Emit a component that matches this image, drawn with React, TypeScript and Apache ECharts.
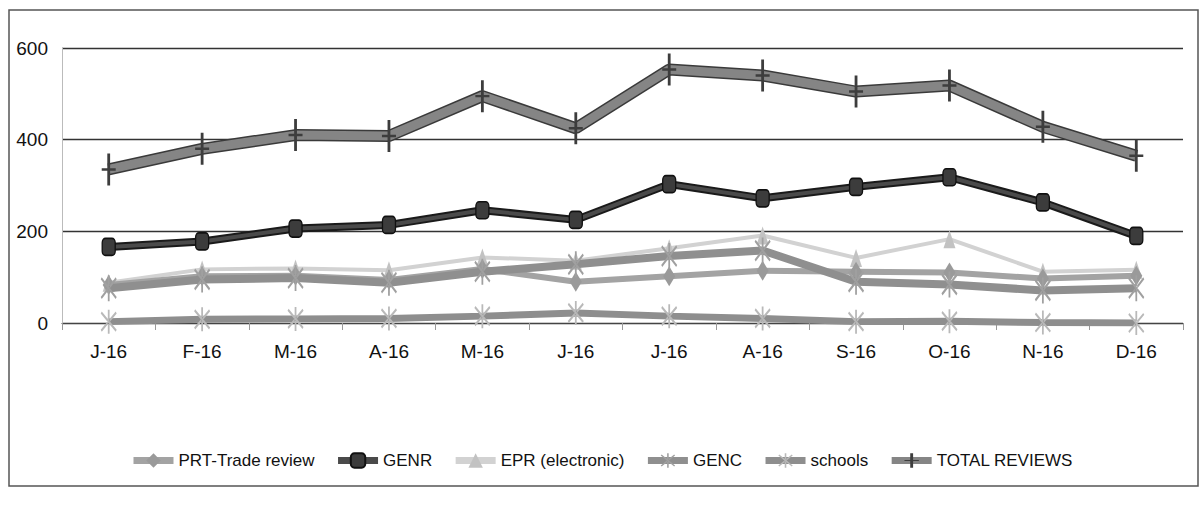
import React, { useEffect, useRef } from "react";
import * as echarts from "echarts";

const months = ["J-16", "F-16", "M-16", "A-16", "M-16", "J-16", "J-16", "A-16", "S-16", "O-16", "N-16", "D-16"];
const yTicks = [0, 200, 400, 600];

const prtTrade = [83, 102, 103, 94, 118, 90, 102, 114, 112, 110, 97, 103];
const genr = [166, 178, 206, 214, 246, 225, 303, 272, 297, 318, 263, 190];
const eprElectronic = [88, 117, 119, 115, 143, 136, 163, 191, 142, 183, 112, 116];
const genc = [76, 95, 98, 88, 112, 128, 146, 158, 90, 84, 71, 76];
const schools = [3, 8, 9, 10, 15, 22, 15, 10, 3, 4, 1, 0];
const totalReviews = [335, 380, 410, 408, 495, 425, 553, 540, 505, 518, 428, 365];

const FONT = "'Liberation Sans', Arial, sans-serif";

const plusPath = "path://M4,0 L6,0 L6,12 L10,12 L10,14 L6,14 L6,26 L4,26 L4,14 L0,14 L0,12 L4,12 Z";
const asteriskPath =
  "path://M9,0 L11,0 L11,20 L9,20 Z M1,3.2 L2.2,1.6 L19,16.8 L17.8,18.4 Z M1,16.8 L2.2,18.4 L19,3.2 L17.8,1.6 Z";

export default function App() {
  const ref = useRef<HTMLDivElement>(null);

  useEffect(() => {
    if (!ref.current) return;
    const chart = echarts.init(ref.current, null, { renderer: "svg" });
    const option: any = {
      animation: false,
      backgroundColor: "#ffffff",
      textStyle: { fontFamily: FONT },
      graphic: [
        {
          type: "rect",
          shape: { x: 9, y: 10, width: 1189, height: 476 },
          style: { fill: "none", stroke: "#555", lineWidth: 1.5 },
          silent: true,
          z: -1,
        },
      ],
      grid: { left: 62, right: 20, top: 48, bottom: 185 },
      legend: {
        data: ["PRT-Trade review", "GENR", "EPR (electronic)", "GENC", "schools", "TOTAL REVIEWS"],
        left: "center",
        top: 447,
        itemWidth: 40,
        itemHeight: 18,
        itemGap: 20,
        lineStyle: { width: 7 },
        textStyle: { fontFamily: FONT, fontSize: 17, color: "#111" },
      },
      xAxis: {
        type: "category",
        data: months,
        boundaryGap: true,
        axisLine: { show: true, lineStyle: { color: "#444", width: 1.2 } },
        axisTick: { show: true, length: 7, lineStyle: { color: "#999" } },
        axisLabel: { fontFamily: FONT, fontSize: 19, color: "#111", margin: 19 },
      },
      yAxis: {
        type: "value",
        min: 0,
        max: 600,
        interval: 200,
        axisLine: { show: true, lineStyle: { color: "#bbb" } },
        axisTick: { show: false },
        axisLabel: {
          fontFamily: FONT,
          fontSize: 19,
          color: "#111",
          margin: 14,
          formatter: (v: number) => (yTicks.includes(v) ? String(v) : ""),
        },
        splitLine: { show: true, lineStyle: { color: "#333", width: 1.3 } },
      },
      series: [
        {
          name: "schools",
          type: "line",
          data: schools,
          symbol: asteriskPath,
          symbolSize: [16, 24],
          lineStyle: { color: "#8e8e8e", width: 7 },
          itemStyle: { color: "#b9b9b9" },
          z: 2,
        },
        {
          name: "EPR (electronic)",
          type: "line",
          data: eprElectronic,
          symbol: "triangle",
          symbolSize: [12, 18],
          lineStyle: { color: "#d2d2d2", width: 4 },
          itemStyle: { color: "#c2c2c2" },
          z: 2,
        },
        {
          name: "PRT-Trade review",
          type: "line",
          data: prtTrade,
          symbol: "diamond",
          symbolSize: [12, 20],
          lineStyle: { color: "#a3a3a3", width: 6 },
          itemStyle: { color: "#9a9a9a" },
          z: 3,
        },
        {
          name: "GENC",
          type: "line",
          data: genc,
          symbol: asteriskPath,
          symbolSize: [16, 26],
          lineStyle: { color: "#8f8f8f", width: 8 },
          itemStyle: { color: "#a0a0a0" },
          z: 4,
        },
        {
          name: "GENR-outline",
          type: "line",
          data: genr,
          symbol: "none",
          lineStyle: { color: "#1a1a1a", width: 8 },
          z: 5,
          silent: true,
        },
        {
          name: "GENR",
          type: "line",
          data: genr,
          symbol: "roundRect",
          symbolSize: [13, 17],
          lineStyle: { color: "#4a4a4a", width: 4 },
          itemStyle: { color: "#3c3c3c", borderColor: "#111", borderWidth: 1.5 },
          z: 6,
        },
        {
          name: "TOTAL-outline",
          type: "line",
          data: totalReviews,
          symbol: "none",
          lineStyle: { color: "#3a3a3a", width: 12 },
          z: 7,
          silent: true,
        },
        {
          name: "TOTAL REVIEWS",
          type: "line",
          data: totalReviews,
          symbol: plusPath,
          symbolSize: [14, 32],
          lineStyle: { color: "#858585", width: 9 },
          itemStyle: { color: "#3d3d3d" },
          z: 8,
        },
      ],
    };
    chart.setOption(option);
    return () => chart.dispose();
  }, []);

  return (
    <div
      ref={ref}
      style={{ position: "fixed", left: 0, top: 0, width: 1203, height: 508, background: "#fff" }}
    />
  );
}
